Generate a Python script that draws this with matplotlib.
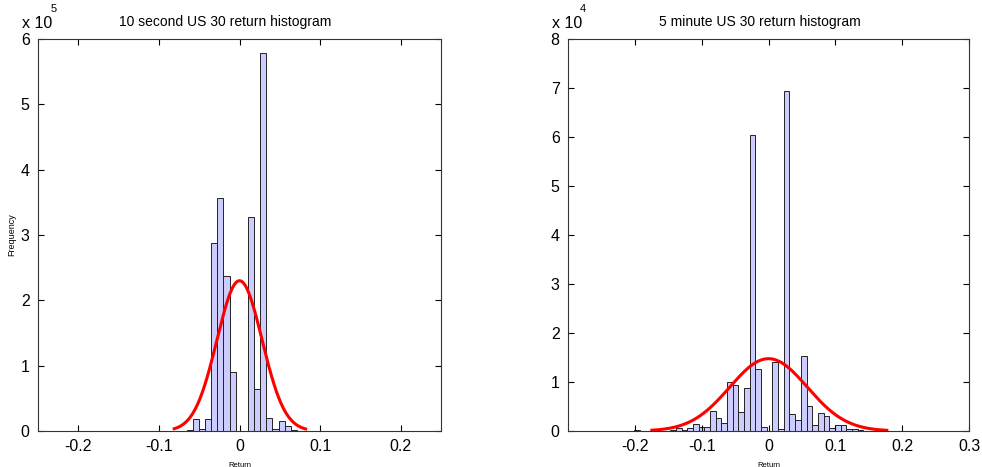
import matplotlib.pyplot as plt
import numpy as np

plt.rcParams['font.family'] = ['Liberation Sans', 'DejaVu Sans']

# 10 second histogram (bin centres, counts)
sec_centers = [-0.0617, -0.0541, -0.0465, -0.0389, -0.0313, -0.0237, -0.0161, -0.0085,
               -0.0009, 0.0067, 0.0143, 0.0219, 0.0295, 0.0371, 0.0447, 0.0523,
               0.0599, 0.0675, 0.0751]
sec_counts = [2000, 19000, 3500, 19000, 287000, 357000, 238000, 90000,
              0, 0, 328000, 65000, 579000, 20000, 3000, 15000,
              7000, 1000, 500]
sec_width = 0.0076
sec_fit = dict(mu=0.0, sigma=0.028, peak=230000, lo=-0.081, hi=0.082)

# 5 minute histogram (bin centres, counts)
min_centers = [-0.1965, -0.1429, -0.1344, -0.1259, -0.1174, -0.1089, -0.1004, -0.0919,
               -0.0834, -0.0749, -0.0664, -0.0579, -0.0494, -0.0409, -0.0324, -0.0239,
               -0.0154, -0.0069, 0.0016, 0.0101, 0.0186, 0.0271, 0.0356, 0.0441,
               0.0526, 0.0611, 0.0696, 0.0781, 0.0866, 0.0951, 0.1036, 0.1121,
               0.1206, 0.1291, 0.1376, 0.1461, 0.1546, 0.1631]
min_counts = [200, 300, 600, 300, 700, 1500, 800, 800,
              4100, 2600, 1700, 10100, 9300, 3900, 8700, 60500,
              12700, 900, 0, 14000, 400, 69300, 3500, 2200,
              15400, 5100, 1300, 3700, 3100, 700, 1200, 1200,
              500, 500, 300, 100, 100, 50]
min_width = 0.0085
min_fit = dict(mu=0.0, sigma=0.058, peak=14760, lo=-0.1745, hi=0.177)

panels = [
    dict(rect=[0.0387, 0.0771, 0.4104, 0.8394], centers=sec_centers, counts=sec_counts,
         width=sec_width, fit=sec_fit, xlim=(-0.25, 0.25),
         xticks=[-0.2, -0.1, 0, 0.1, 0.2], ymax=6, scale=1e5, exp='5',
         title='10 second US 30 return histogram', title_x=0.464, ylabel=True),
    dict(rect=[0.5784, 0.0771, 0.4084, 0.8394], centers=min_centers, counts=min_counts,
         width=min_width, fit=min_fit, xlim=(-0.3, 0.3),
         xticks=[-0.2, -0.1, 0, 0.1, 0.2, 0.3], ymax=8, scale=1e4, exp='4',
         title='5 minute US 30 return histogram', title_x=0.479, ylabel=False),
]

fig = plt.figure(figsize=(9.82, 4.67), dpi=100)

for p in panels:
    ax = fig.add_axes(p['rect'])
    ax.bar(p['centers'], p['counts'], width=p['width'], color='#ccccff',
           edgecolor='#222222', linewidth=0.7)
    f = p['fit']
    xs = np.linspace(f['lo'], f['hi'], 300)
    ax.plot(xs, f['peak'] * np.exp(-0.5 * ((xs - f['mu']) / f['sigma']) ** 2),
            color='red', lw=2.2)
    ax.set_xlim(*p['xlim'])
    ax.set_ylim(0, p['ymax'] * p['scale'])
    ax.set_xticks(p['xticks'])
    ax.set_xticklabels(['0' if t == 0 else '%g' % t for t in p['xticks']])
    yt = list(range(p['ymax'] + 1))
    ax.set_yticks([v * p['scale'] for v in yt])
    ax.set_yticklabels([str(v) for v in yt])
    ax.tick_params(direction='in', length=4, width=0.8, labelsize=11.5,
                   top=True, right=True, pad=6)
    for s in ax.spines.values():
        s.set_linewidth(0.8)
        s.set_color('#333333')
    ax.set_title(p['title'], fontsize=10, x=p['title_x'], pad=9)
    ax.set_xlabel('Return', fontsize=5.5)
    ax.xaxis.set_label_coords(0.5, -0.078)
    if p['ylabel']:
        ax.set_ylabel('Frequency', fontsize=6.5)
        ax.yaxis.set_label_coords(-0.055, 0.5)
    ax.text(-0.04, 1.02, 'x 10', transform=ax.transAxes, fontsize=11.5,
            ha='left', va='bottom')
    ax.text(0.03, 1.065, p['exp'], transform=ax.transAxes, fontsize=8,
            ha='left', va='bottom')

fig.savefig('out.png', dpi=100)
